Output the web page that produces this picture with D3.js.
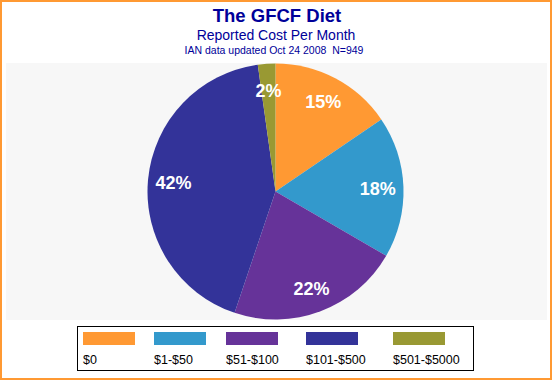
<!DOCTYPE html>
<html><head><meta charset="utf-8">
<script src="https://cdn.jsdelivr.net/npm/d3@7"></script>
<style>body{margin:0;background:#fff}svg{display:block;font-family:"Liberation Sans",Arial,sans-serif}</style>
</head><body><div id="chart"></div>
<script>
const categories = ["$0", "$1-$50", "$51-$100", "$101-$500", "$501-$5000"];
const values = [15.4, 17.8, 21.7, 42.4, 2.2];
const colors = ["#FF9933", "#3399CC", "#663399", "#333399", "#999933"];
const titleText = "The GFCF Diet";
const subtitleText = "Reported Cost Per Month";
const noteText = "IAN data updated Oct 24 2008  N=949";

const W = 553, H = 381;
const svg = d3.select("#chart").append("svg").attr("width", W).attr("height", H);
svg.append("rect").attr("x",0).attr("y",0).attr("width",W).attr("height",H).attr("fill","#fff");
svg.append("rect").attr("x",6).attr("y",63).attr("width",541).attr("height",257).attr("fill","#F7F7F7");
svg.append("rect").attr("x",1).attr("y",1).attr("width",550).attr("height",378)
  .attr("fill","none").attr("stroke","#FF9933").attr("stroke-width",2);

svg.append("text").attr("x",277).attr("y",22).attr("text-anchor","middle")
  .attr("font-size",18.5).attr("font-weight","bold").attr("fill","#000099").text(titleText);
svg.append("text").attr("x",276).attr("y",40).attr("text-anchor","middle")
  .attr("font-size",14).attr("fill","#000099").text(subtitleText);
svg.append("text").attr("x",274).attr("y",54).attr("text-anchor","middle")
  .attr("font-size",10.5).attr("fill","#000099").style("white-space","pre").text(noteText);

const cx = 275.5, cy = 191.5, r = 128;
const pie = d3.pie().sort(null).value(d => d)(values);
const arc = d3.arc().innerRadius(0).outerRadius(r);
const labelArc = d3.arc().innerRadius(r*0.8).outerRadius(r*0.8);
const g = svg.append("g").attr("transform", `translate(${cx},${cy})`);
g.selectAll("path").data(pie).join("path").attr("d", arc).attr("fill", (d,i) => colors[i]);
g.selectAll("text").data(pie).join("text")
  .attr("transform", d => `translate(${labelArc.centroid(d)})`)
  .attr("text-anchor","middle").attr("dy","0.4em")
  .attr("font-size",18).attr("font-weight","bold").attr("fill","#fff")
  .text(d => Math.round(d.data) + "%");

// legend
const lg = svg.append("g");
lg.append("rect").attr("x",77.5).attr("y",326.5).attr("width",396).attr("height",44)
  .attr("fill","#fff").attr("stroke","#000").attr("stroke-width",1);
const legendX = [83, 154, 226, 306, 393];
const items = lg.selectAll("g.item").data(categories).join("g").attr("class","item")
  .attr("transform", (d,i) => `translate(${legendX[i]},0)`);
items.append("rect").attr("x",0).attr("y",332).attr("width",52).attr("height",13).attr("fill",(d,i)=>colors[i]);
items.append("text").attr("x",0).attr("y",364).attr("font-size",12.5).attr("fill","#000").text(d => d);
</script></body></html>
